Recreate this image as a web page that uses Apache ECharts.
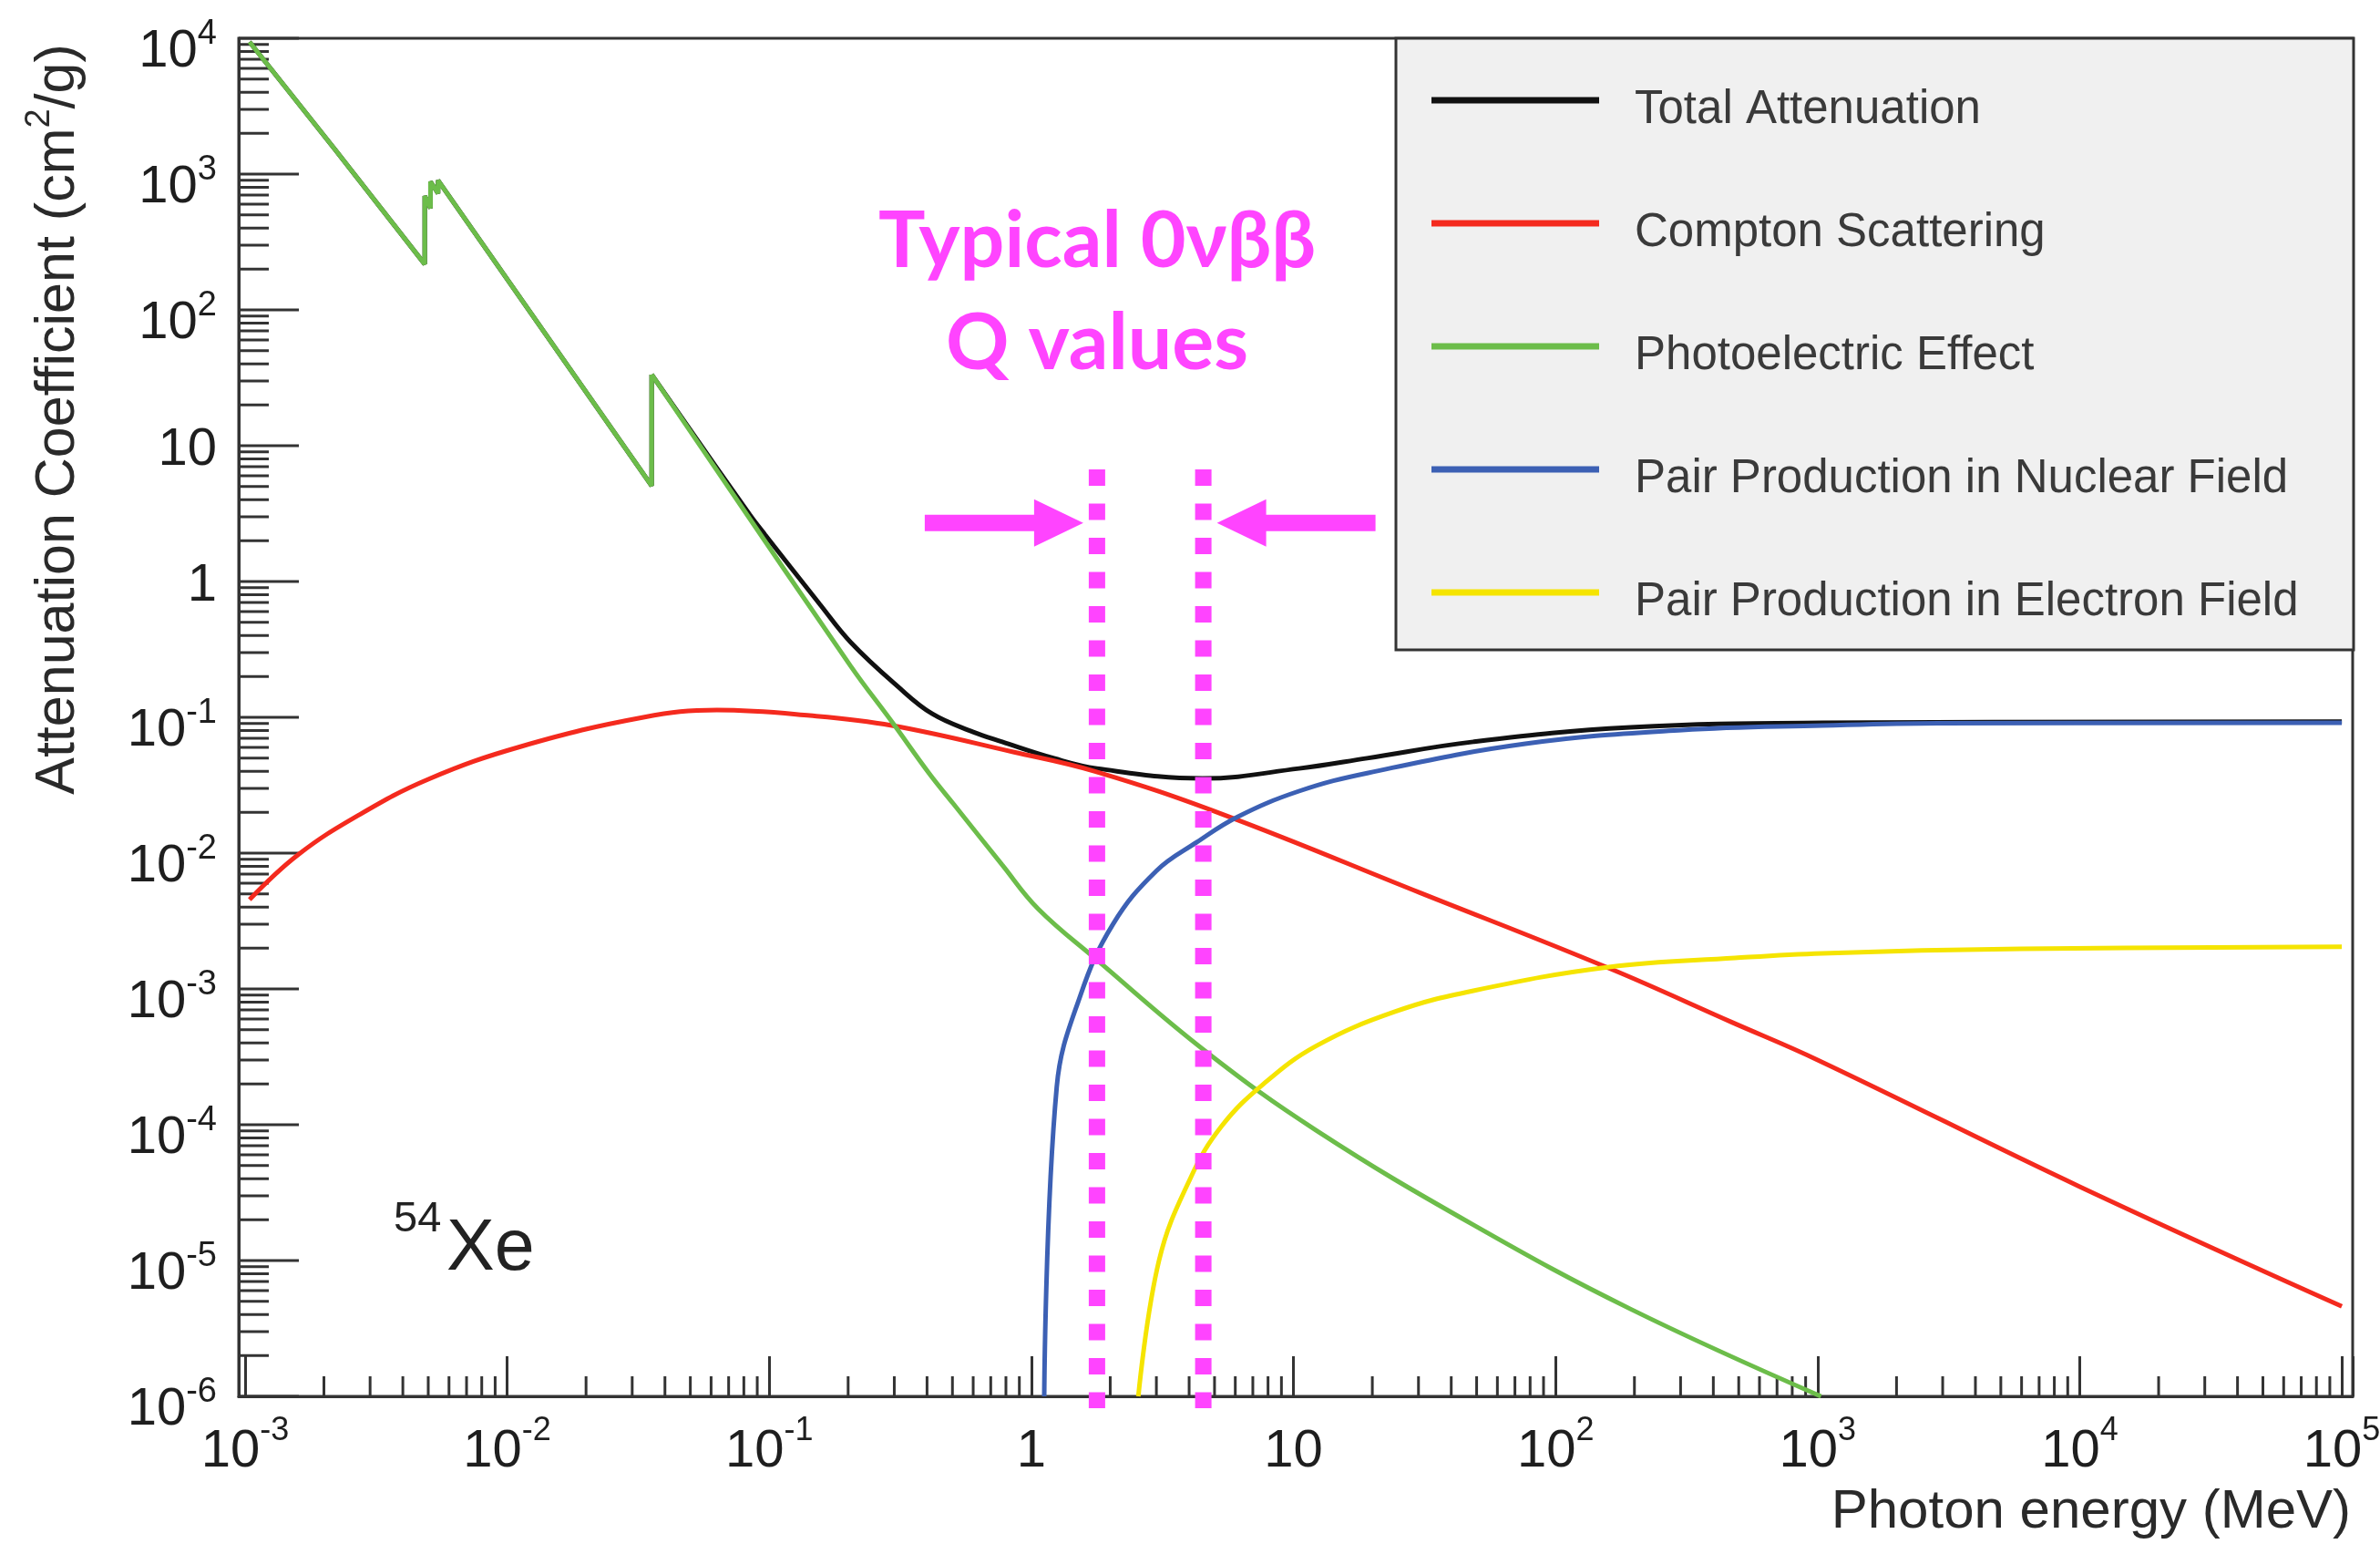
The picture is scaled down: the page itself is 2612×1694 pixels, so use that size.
<!DOCTYPE html>
<html>
<head>
<meta charset="utf-8">
<script src="https://cdn.jsdelivr.net/npm/echarts@6/dist/echarts.min.js"></script>
<style>
  html, body { margin: 0; padding: 0; background: #ffffff; }
  #chart { width: 2612px; height: 1694px; }
</style>
</head>
<body>
<div id="chart"></div>
<script>
// Mass attenuation coefficients of xenon (cm^2/g) versus photon energy (MeV).

// Total attenuation; the first ten points run along the photoelectric curve up to the K edge.
const totalEnergy = [0.00104, 0.00219, 0.00485, 0.00485, 0.0051, 0.0051, 0.00545, 0.00545, 0.0356, 0.0356,
  0.0843, 0.0966, 0.156, 0.205, 0.31, 0.419, 0.6, 0.774, 1.22, 1.78, 4.5, 10.5, 19.1, 48.6, 193, 1045, 100000];
const totalMu = [9400, 1540, 217, 690, 560, 880, 720, 900, 5.07, 33.4,
  3.1, 2.2, 0.68, 0.355, 0.168, 0.106, 0.078, 0.066, 0.0499, 0.042, 0.0355, 0.042, 0.05, 0.066, 0.0843, 0.091, 0.093];

// Compton (incoherent) scattering
const comptonEnergy = [0.00104, 0.00159, 0.00272, 0.005, 0.0113, 0.0331, 0.0632, 0.143, 0.294, 0.853,
  1.75, 5.3, 30.5, 160, 469, 1000, 10000, 100000];
const comptonMu = [0.00455, 0.0097, 0.0191, 0.035, 0.061, 0.1, 0.113, 0.103, 0.087, 0.0556,
  0.04, 0.0195, 0.0051, 0.00142, 0.00057, 0.0003, 0.000035, 0.0000046];

// Photoelectric absorption, with the L and K absorption edges
const photoEnergy = [0.00104, 0.00219, 0.00485, 0.00485, 0.0051, 0.0051, 0.00545, 0.00545, 0.0356, 0.0356,
  0.204, 0.294, 0.408, 0.503, 0.774, 1.06, 1.77, 4.6, 12.2, 48.6, 193, 1030];
const photoMu = [9400, 1540, 217, 690, 560, 880, 720, 900, 5.07, 33.4,
  0.24, 0.0925, 0.0385, 0.0232, 0.0082, 0.0039, 0.00165, 0.00035, 0.000091, 0.0000183, 0.0000044, 0.000001];

// Pair production in the nuclear field
const pairNucEnergy = [1.12, 1.25, 1.54, 2.05, 3.0, 4.27, 6.12, 10.5, 19.3, 76.7, 304, 1045, 2884, 100000];
const pairNucMu = [0.000001, 0.00019, 0.0009, 0.003, 0.0074, 0.012, 0.0185, 0.0286, 0.039, 0.0638, 0.0805, 0.087, 0.0905, 0.0912];

// Pair production in the electron field
const pairElecEnergy = [2.56, 3.07, 4.06, 5.33, 7.7, 12.2, 24.4, 48.6, 160, 484, 1045, 5980, 100000];
const pairElecMu = [0.000001, 0.00001, 0.000041, 0.000098, 0.0002, 0.00038, 0.00068, 0.00097, 0.00145, 0.00169, 0.00183, 0.00197, 0.00204];

// Typical neutrinoless double-beta decay Q values (MeV) marked on the plot
const qValueEnergies = [1.78, 4.53];
const qMarkerTop = 6.7;     // cm^2/g level where the dotted markers start
const qArrowLevel = 2.7;    // cm^2/g level of the arrows

const seriesNames = ['Total Attenuation', 'Compton Scattering', 'Photoelectric Effect',
  'Pair Production in Nuclear Field', 'Pair Production in Electron Field'];
const seriesColors = ['#111111', '#f42a1e', '#6cbd4a', '#3c60b4', '#f5e400'];

// Axis ranges and decade tick exponents of the coefficient axis
const X_MIN = 0.000946, X_MAX = 110000;
const Y_MIN = 1e-6, Y_MAX = 1e4;
const yDecades = [-6, -5, -4, -3, -2, -1, 0, 1, 2, 3, 4];
const minorSteps = [2, 3, 4, 5, 6, 7, 8, 9];

const FONT = '"Liberation Sans", Arial, Helvetica, sans-serif';
const INK = '#1e1e1e';
const MAGENTA = '#ff44ff';
const EDGE_INDEX = 9; // index of the K-edge top, where the smooth part of a curve begins

// Legend box layout
const LEGEND_BOX = { x: 1532, y: 42, width: 1051, height: 671 };
const LEGEND_ROW0 = 110, LEGEND_ROW_STEP = 135;

function pairs(xs, ys) { return xs.map((x, i) => [x, ys[i]]); }

function minorTicks(lo, hi) {
  const out = [];
  for (let d = -7; d <= 5; d++) {
    for (const m of minorSteps) {
      const v = m * Math.pow(10, d);
      if (v > lo * 1.0001 && v < hi * 0.9999) out.push(v);
    }
  }
  return out;
}

function exponentLabel(n, plainStyle) {
  if (n === 0) return '{' + plainStyle + '|1}';
  if (n === 1) return '{' + plainStyle + '|10}';
  return '{b|10}{s|' + n + '}';
}

function powerLabel(v, plainStyle) {
  const e = Math.log10(v);
  const n = Math.round(e);
  if (Math.abs(e - n) > 1e-6) return '';
  return exponentLabel(n, plainStyle);
}

const Y_LABEL_RICH = {
  b: { fontFamily: FONT, fontSize: 58, lineHeight: 67.4, verticalAlign: 'bottom', fill: INK },
  s: { fontFamily: FONT, fontSize: 38, lineHeight: 67.4, verticalAlign: 'top', fill: INK },
  p: { fontFamily: FONT, fontSize: 58, lineHeight: 67.4, verticalAlign: 'top', fill: INK }
};

function lineSeries(name, color, data, smooth) {
  return {
    type: 'line', name: name, data: data, smooth: smooth,
    symbol: 'none', showSymbol: false, clip: true, z: 2,
    lineStyle: { color: color, width: 5 },
    itemStyle: { color: color },
    emphasis: { disabled: true }
  };
}

const totalData = pairs(totalEnergy, totalMu);
const photoData = pairs(photoEnergy, photoMu);

// Legend entries: a colour bar and its label per series
const legendElements = [];
seriesNames.forEach(function (name, i) {
  const rowY = LEGEND_ROW0 + LEGEND_ROW_STEP * i;
  legendElements.push({
    type: 'rect', z: 4, silent: true,
    shape: { x: 1571, y: rowY - 3.5, width: 184, height: 7 },
    style: { fill: seriesColors[i] }
  });
  legendElements.push({
    type: 'text', z: 4, silent: true, x: 1794, y: rowY + 10.5,
    style: { text: name, fontFamily: FONT, fontSize: 51, fill: '#3a3a3a', align: 'left', verticalAlign: 'middle' }
  });
});

const chart = echarts.init(document.getElementById('chart'), null, { renderer: 'canvas' });

const option = {
  animation: false,
  backgroundColor: '#ffffff',
  grid: {
    left: 262, right: 30, top: 42, bottom: 162,
    containLabel: false, outerBoundsMode: 'none',
    show: true, borderColor: '#333333', borderWidth: 3, backgroundColor: 'transparent'
  },
  xAxis: {
    type: 'log', logBase: 10, min: X_MIN, max: X_MAX, splitNumber: 8,
    axisLine: { show: true, lineStyle: { color: '#333333', width: 3 } },
    axisTick: { show: true, inside: true, length: 44, interval: 0, lineStyle: { color: '#333333', width: 3 } },
    minorTick: { show: false },
    splitLine: { show: false },
    axisLabel: {
      interval: 0, margin: 20,
      formatter: function (v) { return powerLabel(v, 'b'); },
      rich: {
        b: { fontFamily: FONT, fontSize: 58, lineHeight: 70, verticalAlign: 'bottom', color: INK },
        s: { fontFamily: FONT, fontSize: 36, lineHeight: 70, verticalAlign: 'top', color: INK }
      }
    }
  },
  yAxis: {
    type: 'log', logBase: 10, min: Y_MIN, max: Y_MAX,
    axisLine: { show: true, lineStyle: { color: '#333333', width: 3 } },
    axisTick: { show: false },
    minorTick: { show: false },
    splitLine: { show: false },
    axisLabel: { show: false }
  },
  graphic: {
    elements: [
      { // legend frame
        type: 'rect', z: 3, silent: true,
        shape: LEGEND_BOX,
        style: { fill: '#f0f0f0', stroke: '#333333', lineWidth: 3 }
      }
    ].concat(legendElements, [
      { // y-axis title
        type: 'text', x: 59.4, y: 460, rotation: Math.PI / 2, silent: true,
        style: {
          text: '{t|Attenuation Coefficient (cm}{s|2}{t|/g)}',
          align: 'center', verticalAlign: 'middle',
          rich: {
            t: { fontFamily: FONT, fontSize: 61, lineHeight: 70, verticalAlign: 'bottom', fill: '#2a2a2a' },
            s: { fontFamily: FONT, fontSize: 38, lineHeight: 70, verticalAlign: 'top', fill: '#2a2a2a' }
          }
        }
      },
      { // x-axis title
        type: 'text', x: 2580, y: 1659, silent: true,
        style: { text: 'Photon energy (MeV)', fontFamily: FONT, fontSize: 60, fill: '#2a2a2a', align: 'right', verticalAlign: 'middle' }
      },
      { // element label
        type: 'text', x: 432, y: 1338, silent: true,
        style: { text: '54', fontFamily: FONT, fontSize: 47, fill: '#222222', align: 'left', verticalAlign: 'middle' }
      },
      {
        type: 'text', x: 490, y: 1371, silent: true,
        style: { text: 'Xe', fontFamily: FONT, fontSize: 79, fill: '#222222', align: 'left', verticalAlign: 'middle' }
      },
      { // annotation
        type: 'text', x: 1204, y: 265, silent: true,
        style: { text: 'Typical 0νββ', fontFamily: 'Lato, "Noto Sans", sans-serif', fontWeight: 'bold', fontSize: 86, fill: MAGENTA, align: 'center', verticalAlign: 'middle' }
      },
      {
        type: 'text', x: 1204, y: 377, silent: true,
        style: { text: 'Q values', fontFamily: 'Lato, "Noto Sans", sans-serif', fontWeight: 'bold', fontSize: 86, fill: MAGENTA, align: 'center', verticalAlign: 'middle' }
      }
    ])
  },
  series: [
    // minor ticks on the energy axis
    {
      type: 'custom', silent: true, z: 1, clip: false,
      data: minorTicks(X_MIN, X_MAX).map(v => [v, Y_MIN]),
      encode: { x: 0, y: 1 },
      renderItem: function (params, api) {
        const c = api.coord([api.value(0), api.value(1)]);
        return { type: 'line', shape: { x1: c[0], y1: c[1], x2: c[0], y2: c[1] - 22 }, style: { stroke: '#333333', lineWidth: 3 } };
      }
    },
    // minor ticks on the coefficient axis
    {
      type: 'custom', silent: true, z: 1, clip: false,
      data: minorTicks(Y_MIN, Y_MAX).map(v => [X_MIN, v]),
      encode: { x: 0, y: 1 },
      renderItem: function (params, api) {
        const c = api.coord([api.value(0), api.value(1)]);
        return { type: 'line', shape: { x1: c[0], y1: c[1], x2: c[0] + 33, y2: c[1] }, style: { stroke: '#333333', lineWidth: 3 } };
      }
    },
    // decade ticks and labels on the coefficient axis
    {
      type: 'custom', silent: true, z: 1, clip: false,
      data: yDecades.map(d => [X_MIN, Math.pow(10, d), d]),
      encode: { x: 0, y: 1 },
      renderItem: function (params, api) {
        const c = api.coord([api.value(0), api.value(1)]);
        const d = api.value(2);
        return {
          type: 'group',
          children: [
            { type: 'line', shape: { x1: c[0], y1: c[1], x2: c[0] + 66, y2: c[1] }, style: { stroke: '#333333', lineWidth: 3 } },
            {
              type: 'text', x: c[0] - 24, y: c[1] + 10,
              style: { text: exponentLabel(d, 'p'), rich: Y_LABEL_RICH, align: 'right', verticalAlign: 'middle' }
            }
          ]
        };
      }
    },
    lineSeries(seriesNames[0], seriesColors[0], totalData.slice(0, EDGE_INDEX + 1), false),
    lineSeries(seriesNames[0], seriesColors[0], totalData.slice(EDGE_INDEX), 0.4),
    lineSeries(seriesNames[1], seriesColors[1], pairs(comptonEnergy, comptonMu), 0.4),
    lineSeries(seriesNames[2], seriesColors[2], photoData.slice(0, EDGE_INDEX + 1), false),
    lineSeries(seriesNames[2], seriesColors[2], photoData.slice(EDGE_INDEX), 0.4),
    lineSeries(seriesNames[3], seriesColors[3], pairs(pairNucEnergy, pairNucMu), 0.4),
    lineSeries(seriesNames[4], seriesColors[4], pairs(pairElecEnergy, pairElecMu), 0.4),
    // Q-value markers: dotted verticals with arrows pointing at them
    {
      type: 'custom', silent: true, z: 5, clip: false,
      data: qValueEnergies.map((e, i) => [e, qMarkerTop, qArrowLevel, i === 0 ? 1 : -1]),
      encode: { x: 0, y: 1 },
      renderItem: function (params, api) {
        const e = api.value(0);
        const top = api.coord([e, api.value(1)]);
        const bottom = api.coord([e, Y_MIN]);
        const mid = api.coord([e, api.value(2)]);
        const dir = api.value(3);
        const xc = top[0], yc = mid[1];
        const tip = xc - dir * 15, base = xc - dir * 69, tail = xc - dir * 189;
        return {
          type: 'group',
          children: [
            {
              type: 'line',
              shape: { x1: xc, y1: top[1], x2: xc, y2: bottom[1] + 13 },
              style: { stroke: MAGENTA, lineWidth: 18, lineDash: [18, 19.5], lineCap: 'butt' }
            },
            {
              type: 'polygon',
              shape: { points: [[tail, yc - 9], [base, yc - 9], [base, yc - 26], [tip, yc], [base, yc + 26], [base, yc + 9], [tail, yc + 9]] },
              style: { fill: MAGENTA }
            }
          ]
        };
      }
    }
  ]
};

chart.setOption(option);
</script>
</body>
</html>
